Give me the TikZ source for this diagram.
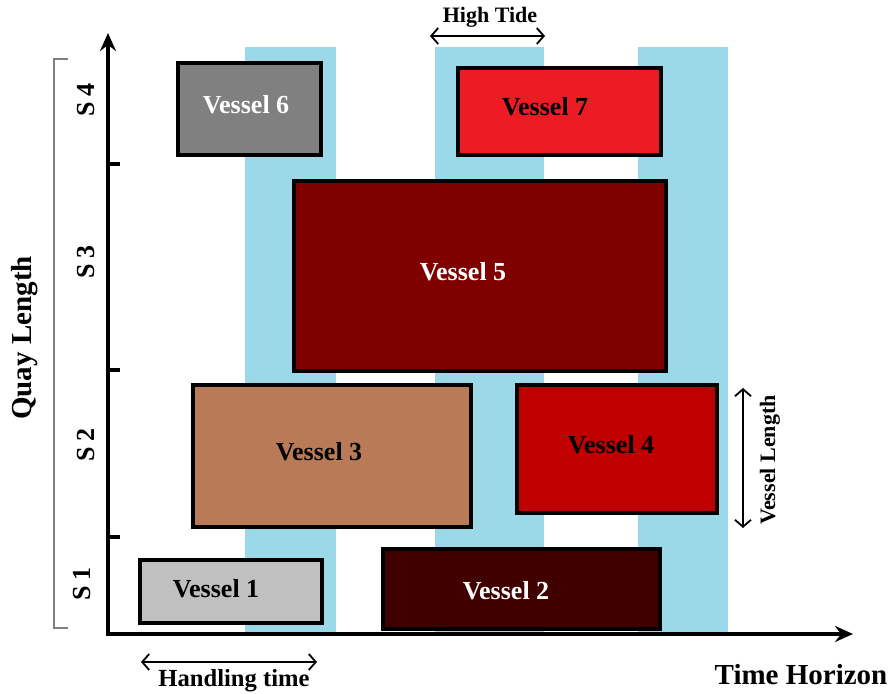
\documentclass[tikz,border=0pt]{standalone}
\usepackage{fontspec}
\setmainfont{Liberation Serif}
\usetikzlibrary{arrows.meta}

\definecolor{tide}{RGB}{155,216,232}
\definecolor{vone}{RGB}{192,192,192}
\definecolor{vtwo}{RGB}{64,0,0}
\definecolor{vthree}{RGB}{185,122,87}
\definecolor{vfour}{RGB}{192,0,0}
\definecolor{vfive}{RGB}{128,0,0}
\definecolor{vsix}{RGB}{128,128,128}
\definecolor{vseven}{RGB}{237,28,36}

\begin{document}
\begin{tikzpicture}[x=0.5pt, y=-0.5pt]
        \useasboundingbox (0,0) rectangle (891,694);
        % high tide windows
        \fill[tide] (245,47) rectangle (336,632);
        \fill[tide] (435,47) rectangle (544,632);
        \fill[tide] (638,47) rectangle (728,632);
        \begin{scope}[every node/.style={draw=black, line width=2pt, rectangle, inner sep=0}]
            \node [fill=vone, minimum width=91pt, minimum height=31.5pt] (v1) at (231,591.5) {};
            \node [fill=vtwo, minimum width=138.5pt, minimum height=40pt] (v2) at (521.5,589) {};
            \node [fill=vthree, minimum width=139pt, minimum height=71pt] (v3) at (332,456) {};
            \node [fill=vfour, minimum width=100pt, minimum height=64pt] (v4) at (617,449) {};
            \node [fill=vfive, minimum width=186pt, minimum height=95pt] (v5) at (480,276) {};
            \node [fill=vsix, minimum width=71.5pt, minimum height=46pt] (v6) at (249.5,109) {};
            \node [fill=vseven, minimum width=101.5pt, minimum height=43.5pt] (v7) at (559.5,111.5) {};
        \end{scope}
        \begin{scope}[every node/.style={font=\fontsize{13}{15}\selectfont\bfseries, inner sep=0}]
            \node (l1) at (216,589) {Vessel 1};
            \node [white] (l2) at (506,591) {Vessel 2};
            \node (l3) at (319,452) {Vessel 3};
            \node (l4) at (611,445) {Vessel 4};
            \node [white] (l5) at (463,272) {Vessel 5};
            \node [white] (l6) at (246,105) {Vessel 6};
            \node (l7) at (545,107) {Vessel 7};
        \end{scope}
        % axes
        \coordinate (O) at (108,636);
        \coordinate (ytop) at (108,33);
        \coordinate (xstart) at (106,634);
        \coordinate (xend) at (853,634);
        \draw[line width=2pt, -{Stealth[length=9pt, width=8pt, inset=3pt]}] (O) -- (ytop);
        \draw[line width=2pt, -{Stealth[length=9pt, width=8pt, inset=3pt]}] (xstart) -- (xend);
        \foreach \y in {164,370,537}
            \draw[line width=2pt] (108,\y) -- (120,\y);
        % quay bracket
        \draw[gray, line width=0.6pt] (68,59) -- (54,59) -- (54,628) -- (68,628);
        \begin{scope}[every node/.style={font=\fontsize{13}{15}\selectfont\bfseries, rotate=90, inner sep=0}]
            \node (s4) at (86,100) {S 4};
            \node (s3) at (86,262) {S 3};
            \node (s2) at (86,445) {S 2};
            \node (s1) at (82,584) {S 1};
            \node [font=\fontsize{14.5}{17}\selectfont\bfseries] (quay) at (25,338) {Quay Length};
            \node [font=\fontsize{11}{13}\selectfont\bfseries] (vlen) at (770,460) {Vessel Length};
        \end{scope}
        \begin{scope}[every node/.style={inner sep=0}]
            \node [font=\fontsize{14.5}{17}\selectfont\bfseries] (time) at (801,675) {Time Horizon};
            \node [font=\fontsize{12.3}{15}\selectfont\bfseries] (hand) at (234,681) {Handling time};
            \node [font=\fontsize{11}{13}\selectfont\bfseries] (tide) at (490,17) {High Tide};
        \end{scope}
        % measures
        \coordinate (h1) at (141,662);
        \coordinate (h2) at (317,662);
        \coordinate (t1) at (430,36);
        \coordinate (t2) at (545,36);
        \coordinate (m1) at (743,388);
        \coordinate (m2) at (743,528);
        \begin{scope}[every path/.style={line width=0.9pt, {Straight Barb[length=3.5pt, width=8pt]}-{Straight Barb[length=3.5pt, width=8pt]}}]
            \draw (h1) -- (h2);
            \draw (t1) -- (t2);
            \draw (m1) -- (m2);
        \end{scope}
    \end{tikzpicture}
\end{document}
